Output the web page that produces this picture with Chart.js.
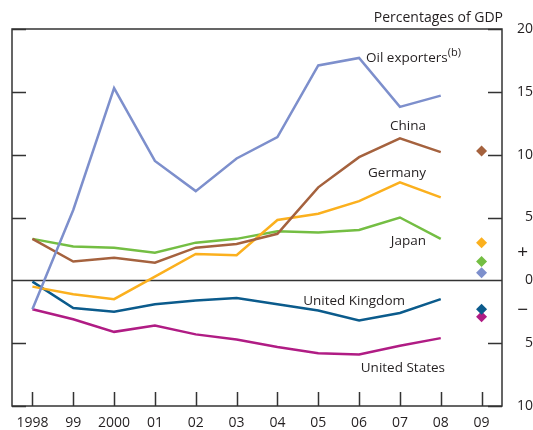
<!DOCTYPE html>
<html>
<head>
<meta charset="utf-8">
<script src="https://cdn.jsdelivr.net/npm/chart.js@4.4.1/dist/chart.umd.min.js"></script>
<style>
  html, body { margin: 0; padding: 0; background: #fff; }
  canvas { display: block; }
</style>
</head>
<body>
<canvas id="gdpChart" width="533" height="430"></canvas>
<script>
// data (per cent of GDP)
const years = ['1998', '99', '2000', '01', '02', '03', '04', '05', '06', '07', '08', '09'];
const seriesNames = ['Oil exporters', 'China', 'Germany', 'Japan', 'United Kingdom', 'United States'];
const oilExporters = [-2.3, 5.6, 15.3, 9.5, 7.1, 9.7, 11.4, 17.1, 17.7, 13.8, 14.7];
const china = [3.3, 1.5, 1.8, 1.4, 2.6, 2.9, 3.7, 7.4, 9.8, 11.3, 10.2];
const germany = [-0.5, -1.1, -1.5, 0.3, 2.1, 2.0, 4.8, 5.3, 6.3, 7.8, 6.6];
const japan = [3.3, 2.7, 2.6, 2.2, 3.0, 3.3, 3.9, 3.8, 4.0, 5.0, 3.3];
const unitedKingdom = [-0.1, -2.2, -2.5, -1.9, -1.6, -1.4, -1.9, -2.4, -3.2, -2.6, -1.5];
const unitedStates = [-2.3, -3.1, -4.1, -3.6, -4.3, -4.7, -5.3, -5.8, -5.9, -5.2, -4.6];
// 2009 projections, same order as seriesNames
const projections09 = [0.6, 10.3, 3.0, 1.5, -2.3, -2.9];
const yTickValues = [-10, -5, 0, 5, 10, 15, 20];
const signTicks = [2.2, -2.4]; // the + and − marks on the right axis

const colours = ['#7d8fcc', '#a5623e', '#fbb01e', '#74be43', '#0b5b8c', '#b01c84'];
const allSeries = [oilExporters, china, germany, japan, unitedKingdom, unitedStates];

const frameColour = '#333333';
const textColour = '#231f20';
const fontFamily = "'Open Sans', sans-serif";

// text labels next to the lines
const lineLabels = [
    { text: 'China', x: 426, y: 130, align: 'right' },
    { text: 'Germany', x: 426, y: 177, align: 'right' },
    { text: 'Japan', x: 426, y: 245, align: 'right' },
    { text: 'United Kingdom', x: 405, y: 305, align: 'right' },
    { text: 'United States', x: 445, y: 372, align: 'right' },
];

Chart.defaults.font.family = fontFamily;
Chart.defaults.font.size = 13;
Chart.defaults.color = textColour;

const datasets = [];
allSeries.forEach((values, i) => {
    datasets.push({
        label: seriesNames[i],
        data: values,
        borderColor: colours[i],
        backgroundColor: colours[i],
        borderWidth: 2.5,
        pointRadius: 0,
        tension: 0,
        fill: false,
    });
});
projections09.forEach((v, i) => {
    datasets.push({
        label: seriesNames[i] + ' 2009',
        data: [{ x: '09', y: v }],
        showLine: false,
        pointStyle: 'rectRot',
        pointRadius: 5.5,
        pointBorderWidth: 0,
        backgroundColor: colours[i],
        borderColor: colours[i],
    });
});

// frame, inside tick marks, zero line and text
const framePlugin = {
    id: 'framePlugin',
    beforeDatasetsDraw(chart) {
        const { ctx, chartArea: a, scales: { x, y } } = chart;
        ctx.save();
        ctx.strokeStyle = frameColour;
        ctx.lineWidth = 1.5;
        ctx.beginPath();
        const z = Math.round(y.getPixelForValue(0)) + 0.5;
        ctx.moveTo(a.left, z);
        ctx.lineTo(a.right, z);
        yTickValues.forEach(v => {
            if (v === 0) return;
            const py = Math.round(y.getPixelForValue(v)) + 0.5;
            ctx.moveTo(a.left, py);
            ctx.lineTo(a.left + 14, py);
            ctx.moveTo(a.right - 14, py);
            ctx.lineTo(a.right, py);
        });
        years.forEach((yr, i) => {
            const px = Math.round(x.getPixelForValue(i)) + 0.5;
            ctx.moveTo(px, a.bottom);
            ctx.lineTo(px, a.bottom - 14);
        });
        ctx.stroke();
        ctx.restore();
    },
    afterDraw(chart) {
        const { ctx, chartArea: a } = chart;
        ctx.save();
        ctx.strokeStyle = frameColour;
        ctx.lineWidth = 1.5;
        ctx.strokeRect(a.left, a.top, a.right - a.left, a.bottom - a.top);

        ctx.fillStyle = textColour;
        ctx.font = '13.5px ' + fontFamily;
        ctx.textBaseline = 'alphabetic';
        lineLabels.forEach(l => {
            ctx.textAlign = l.align;
            ctx.fillText(l.text, l.x, l.y);
        });

        // oil exporters with superscript
        ctx.textAlign = 'left';
        const oil = 'Oil exporters';
        ctx.fillText(oil, 366, 62);
        const w = ctx.measureText(oil).width;
        ctx.font = '11px ' + fontFamily;
        ctx.fillText('(b)', 366 + w, 56);

        ctx.font = '14px ' + fontFamily;
        ctx.textAlign = 'right';
        ctx.fillText('Percentages of GDP', 503, 22);
        ctx.restore();
    }
};

new Chart(document.getElementById('gdpChart'), {
    type: 'line',
    data: { labels: years, datasets: datasets },
    options: {
        responsive: false,
        animation: false,
        layout: { padding: { top: 29, left: 12, right: 0, bottom: 0 } },
        plugins: {
            legend: { display: false },
            tooltip: { enabled: false },
        },
        scales: {
            x: {
                offset: true,
                grid: { display: false, drawTicks: false },
                border: { display: false },
                ticks: { padding: 9, maxRotation: 0, autoSkip: false, font: { size: 14 } },
                afterFit(scale) { scale.height = 24; },
            },
            y: {
                position: 'right',
                min: -10,
                max: 20,
                grid: { display: false, drawTicks: false },
                border: { display: false },
                afterBuildTicks(scale) {
                    scale.ticks = yTickValues.concat(signTicks).map(v => ({ value: v }));
                },
                ticks: {
                    crossAlign: 'far',
                    padding: 3,
                    font(c) {
                        const v = c.tick ? c.tick.value : 0;
                        return { size: signTicks.includes(v) ? 19 : 14 };
                    },
                    callback(v) {
                        if (v === signTicks[0]) return '+ ';
                        if (v === signTicks[1]) return '\u2212 ';
                        return Math.abs(v);
                    },
                },
                afterFit(scale) { scale.width = 31; },
            },
        },
    },
    plugins: [framePlugin],
});
</script>
</body>
</html>
